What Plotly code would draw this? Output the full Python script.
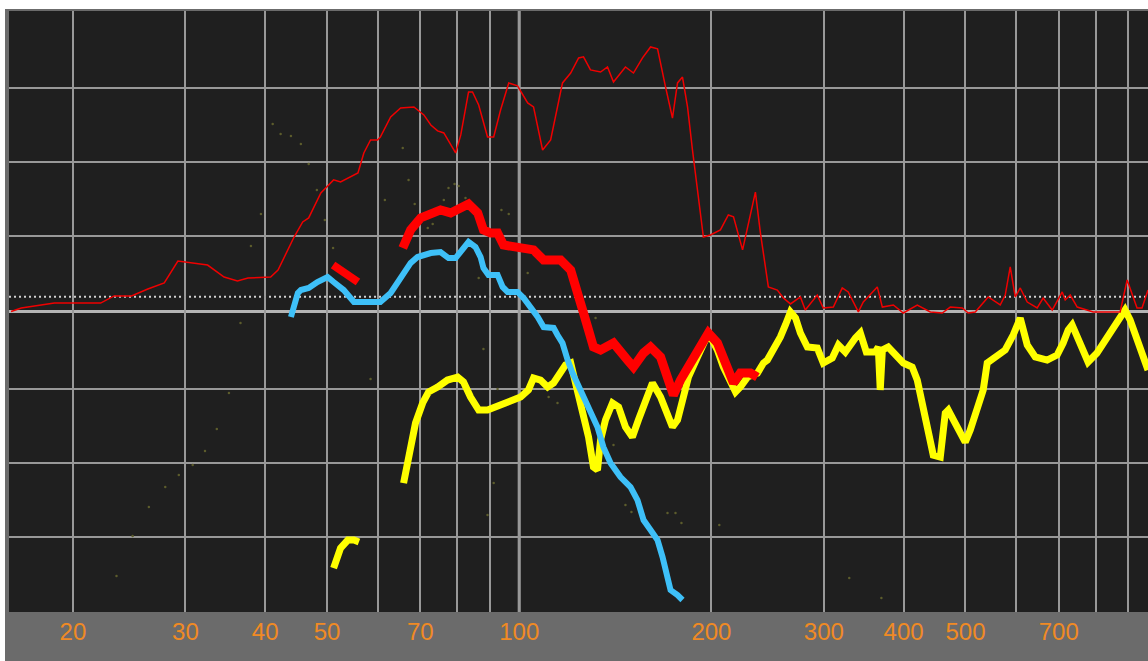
import math
import plotly.graph_objects as go

# ---- measured data (frequency in Hz, level in dB) ----
# broadband response, thin trace
resp_f = [16.0, 16.6, 18.7, 22.1, 23.2, 24.7, 26.2, 27.8, 29.2, 30.9, 32.5, 34.5, 36.2, 37.6,
          40.8, 41.9, 44.4, 45.8, 46.8, 48.9, 51.2, 52.5, 55.9, 57.1, 58.5, 60.0, 60.6, 62.9,
          65.2, 68.4, 70.9, 72.7, 74.5, 76.2, 79.5, 81.0, 83.3, 84.5, 86.4, 89.2, 91.2, 93.5,
          96.3, 99.4, 103.1, 105.3, 108.8, 112.0, 116.9, 120.4, 123.9, 126.1, 129.3, 134.1,
          137.5, 140.5, 146.7, 151.0, 156.0, 160.6, 164.7, 169.5, 173.8, 177.0, 180.2, 183.5,
          186.8, 194.3, 199.3, 206.6, 212.6, 216.6, 223.8, 234.4, 238.7, 245.6, 253.7, 259.3,
          266.0, 275.7, 280.6, 293.0, 299.4, 310.5, 320.6, 327.6, 339.8, 345.9, 363.8, 370.5,
          385.5, 399.6, 420.2, 440.5, 459.9, 473.4, 494.3, 505.0, 518.0, 542.7, 566.8, 577.1,
          587.6, 598.3, 609.2, 624.8, 647.6, 661.7, 683.7, 708.8, 716.5, 729.6, 748.2, 792.6,
          873.5, 895.8, 912.0, 928.4, 945.2, 965.8]
resp_db = [0.0, 0.24, 0.57, 0.57, 1.05, 1.05, 1.52, 1.93, 3.41, 3.28, 3.14, 2.33, 2.06, 2.26,
           2.33, 2.80, 5.03, 6.05, 6.32, 8.01, 8.89, 8.75, 9.36, 10.71, 11.59, 11.59, 11.79, 13.14,
           13.75, 13.82, 13.28, 12.60, 12.20, 12.06, 10.71, 11.93, 14.83, 14.83, 13.95, 11.79, 11.79, 13.61,
           15.44, 15.24, 14.09, 13.82, 10.91, 11.59, 15.44, 16.11, 17.13, 17.20, 16.32, 16.18,
           16.52, 15.51, 16.52, 16.11, 17.13, 17.87, 17.74, 15.17, 13.07, 15.44, 15.84, 13.82,
           10.91, 5.03, 5.17, 5.51, 6.52, 6.39, 4.16, 8.07, 5.30, 1.66, 1.45, 0.91,
           0.51, 0.98, 0.10, 1.11, 0.24, 0.30, 1.59, 1.32, -0.03, 0.64, 1.66, 0.30,
           0.44, -0.10, 0.44, -0.03, -0.10, 0.30, 0.24, -0.10, -0.03, 0.98, 0.44, 1.11,
           3.01, 0.98, 1.59, 0.64, 0.24, 0.91, 0.10, 1.32, 0.78, 1.11, 0.30, -0.03,
           -0.03, 2.13, 1.25, 0.24, 0.24, 1.45]

# red measurement, short low segment and main run
red_lo_f = [51.1, 52.5, 54.1, 55.9]
red_lo_db = [3.14, 2.80, 2.40, 1.99]
red_f = [65.7, 67.6, 70.1, 72.7, 75.3, 78.1, 81.0, 83.3, 86.1, 87.9, 90.2, 92.5, 94.5, 98.0,
         101.6, 105.3, 109.2, 112.0, 116.1, 120.4, 123.4, 126.1, 128.4, 130.7, 134.1, 140.5,
         147.8, 151.0, 156.6, 160.6, 166.5, 172.6, 174.4, 178.9, 185.4, 192.2, 197.8, 204.4,
         211.8, 216.6, 222.0, 230.3, 236.1]
red_db = [4.29, 5.51, 6.32, 6.66, 6.86, 6.66, 7.06, 7.26, 6.66, 5.51, 5.30, 5.30, 4.49, 4.43,
          4.36, 4.16, 3.48, 3.48, 3.48, 2.80, 1.45, -0.10, -1.25, -2.40, -2.60, -2.13,
          -3.28, -3.75, -2.80, -2.40, -3.07, -4.83, -5.64, -4.63, -3.48, -2.13, -1.45, -2.13,
          -3.95, -4.83, -4.16, -4.16, -4.43]

# blue measurement
blue_f = [43.9, 45.0, 45.5, 46.8, 48.3, 50.1, 51.2, 53.1, 55.1, 56.5, 60.6, 62.9, 65.2, 67.6,
          69.3, 72.7, 75.3, 77.5, 79.5, 81.5, 83.3, 85.4, 87.0, 87.9, 89.5, 92.5, 94.2, 95.9,
          99.4, 101.6, 104.2, 106.9, 109.2, 113.2, 114.8, 116.9, 119.1, 121.2, 124.7, 128.4,
          132.6, 135.5, 139.0, 144.1, 149.4, 153.2, 156.6, 160.6, 164.7, 167.7, 170.7, 172.6,
          177.0, 180.2]
blue_db = [-0.37, 1.25, 1.45, 1.59, 1.99, 2.33, 1.99, 1.45, 0.64, 0.64, 0.64, 1.25, 2.33, 3.28,
           3.68, 3.95, 4.02, 3.61, 3.61, 4.16, 4.70, 4.36, 3.68, 2.94, 2.47, 2.47, 1.66, 1.32,
           1.32, 0.91, 0.30, -0.37, -1.05, -1.11, -1.59, -2.13, -3.28, -4.16, -5.30, -6.45,
           -7.80, -9.16, -10.24, -11.18, -11.86, -12.74, -14.09, -14.76, -15.44, -16.59, -17.94, -18.82,
           -19.16, -19.49]

# yellow measurement, short low segment and main run
yel_lo_f = [51.2, 52.0, 52.5, 53.9, 55.1, 56.1]
yel_lo_db = [-17.33, -16.59, -15.98, -15.44, -15.44, -15.57]
yel_f = [65.9, 66.4, 67.6, 68.8, 70.6, 72.1, 74.5, 77.2, 80.1, 81.8, 83.9, 86.4, 89.2, 92.5,
         96.9, 100.5, 103.4, 105.3, 108.0, 110.8, 113.2, 116.1, 118.2, 120.4, 123.4, 125.7,
         128.4, 130.7, 132.6, 134.1, 136.5, 140.0, 143.1, 146.7, 150.4, 153.7, 158.9, 161.7,
         166.5, 170.7, 173.8, 177.0, 180.2, 184.1, 190.2, 195.7, 199.3, 204.4, 208.8, 214.2,
         218.2, 222.0, 227.8, 236.1, 241.3, 244.7, 250.2, 256.5, 261.2, 266.0, 270.9, 275.7,
         282.7, 293.0, 299.4, 309.3, 316.2, 324.2, 336.2, 342.2, 349.7, 361.2, 365.1, 367.7,
         370.5, 378.4, 399.6, 412.6, 420.2, 429.4, 437.2, 445.2, 456.6, 464.9, 469.9, 485.4,
         499.6, 508.7, 521.6, 533.1, 540.8, 560.6, 577.1, 593.9, 609.2, 624.8, 643.1, 671.3,
         696.0, 711.2, 724.2, 734.6, 756.2, 778.1, 803.6, 833.2, 857.6, 889.0, 905.4, 938.6,
         965.8]
yel_db = [-11.59, -10.91, -9.16, -7.53, -6.18, -5.44, -5.10, -4.63, -4.43, -4.76, -5.78, -6.66, -6.66, -6.39,
          -6.11, -5.78, -5.30, -4.49, -4.63, -5.10, -4.83, -4.16, -3.61, -3.48, -5.30, -6.45,
          -8.48, -10.51, -10.71, -8.68, -7.33, -6.18, -6.45, -7.80, -8.48, -7.33, -5.51, -4.83,
          -5.78, -6.86, -7.80, -7.33, -6.11, -4.43, -3.07, -1.93, -1.72, -2.60, -3.75, -4.83,
          -5.44, -5.10, -4.43, -4.16, -3.48, -3.28, -2.60, -1.72, -0.91, -0.03, -0.44, -1.45,
          -2.40, -2.47, -3.48, -3.14, -2.26, -2.74, -1.79, -1.45, -2.74, -2.74, -2.40, -5.30,
          -2.60, -2.40, -3.48, -3.75, -4.63, -6.45, -8.14, -9.70, -9.83, -6.86, -6.66, -7.80,
          -8.82, -8.01, -6.66, -5.30, -3.48, -2.94, -2.60, -1.59, -0.44, -2.26, -3.07, -3.28,
          -2.94, -2.13, -1.25, -0.91, -2.13, -3.41, -2.80, -1.72, -0.91, 0.10, -0.57, -2.60,
          -3.95]

# scattered raw samples
dots_f = [41.1, 42.3, 43.9, 45.5, 46.8, 48.2, 49.6, 51.1, 39.4, 38.0, 36.6, 61.6, 65.7, 67.1,
          68.6, 71.9, 73.2, 76.2, 77.5, 79.2, 80.4, 82.4, 93.8, 96.3, 86.4, 103.1, 131.7, 87.9,
          92.5, 111.2, 114.8, 91.2, 89.2, 140.5, 146.7, 149.9, 170.7, 175.7, 179.5, 205.8,
          328.8, 369.2, 58.5, 35.1, 33.6, 32.2, 30.8, 29.3, 27.9, 26.3, 24.8, 23.4]
dots_db = [12.67, 11.99, 11.86, 11.32, 9.97, 8.21, 6.18, 4.29, 6.59, 4.43, -0.78, 7.53, 11.05, 8.89,
           7.26, 5.64, 5.91, 7.53, 8.34, 8.61, 8.48, 7.67, 6.86, 6.59, 2.26, 2.60, -0.44, -2.53,
           -5.24, -5.78, -6.18, -11.59, -13.75, -9.02, -13.07, -13.55, -13.61, -13.61, -14.29, -14.43,
           -18.01, -19.36, -4.56, -5.51, -7.94, -9.43, -10.37, -11.05, -11.86, -13.21, -15.17, -17.87]

# axis grid
freq_ticks = [20, 30, 40, 50, 60, 70, 80, 90, 100, 200, 300, 400, 500, 600, 700, 800, 900]
freq_labels = ["20", "30", "40", "50", "", "70", "", "", "100", "200", "300", "400", "500",
               "", "700", "", ""]
level_grid = [15.1, 10.1, 5.1, -5.25, -10.25, -15.25]
ref_level = 1.0
freq_range = [15.88, 965.8]
level_range = [-20.3, 20.3]

W, H = 1148, 661
ML, MT, MB = 9, 11, 49
PW, PH = W - ML, H - MT - MB

fig = go.Figure()

fig.add_trace(go.Scatter(x=dots_f, y=dots_db, mode="markers",
                         marker=dict(size=2.5, color="#5c5c2c"), hoverinfo="skip"))
fig.add_trace(go.Scatter(x=yel_lo_f, y=yel_lo_db, mode="lines",
                         line=dict(color="#ffff00", width=7)))
fig.add_trace(go.Scatter(x=yel_f, y=yel_db, mode="lines",
                         line=dict(color="#ffff00", width=7)))
fig.add_trace(go.Scatter(x=blue_f, y=blue_db, mode="lines",
                         line=dict(color="#3ec0f8", width=6)))
fig.add_trace(go.Scatter(x=red_lo_f, y=red_lo_db, mode="lines",
                         line=dict(color="#ff0000", width=8)))
fig.add_trace(go.Scatter(x=red_f, y=red_db, mode="lines",
                         line=dict(color="#ff0000", width=9)))
fig.add_trace(go.Scatter(x=resp_f, y=resp_db, mode="lines",
                         line=dict(color="#f00000", width=1.5)))

# white page strips around the frame
px = lambda p: (p - ML) / PW
py = lambda p: 1 - (p - MT) / PH
fig.add_shape(type="rect", xref="paper", yref="paper", x0=px(0), x1=px(5), y0=py(H), y1=py(0),
              fillcolor="white", line_width=0, layer="above")
fig.add_shape(type="rect", xref="paper", yref="paper", x0=px(0), x1=px(W), y0=py(9), y1=py(0),
              fillcolor="white", line_width=0, layer="above")

# reference lines
fig.add_hline(y=0, line=dict(color="#b4b4b4", width=3), layer="below")
fig.add_hline(y=ref_level, line=dict(color="#d0d0d0", width=2, dash="2px,3px"), layer="below")
fig.add_vline(x=100, line=dict(color="#a8a8a8", width=3), layer="below")

fig.update_xaxes(type="log", range=[math.log10(v) for v in freq_range],
                 tickvals=freq_ticks, ticktext=freq_labels, showgrid=True,
                 gridcolor="#989898", gridwidth=2, zeroline=False, showline=False,
                 ticks="", tickfont=dict(family="Liberation Sans Narrow, Arimo, Liberation Sans, Arial",
                                         size=24, color="#f08a24"),
                 ticklabelstandoff=3, fixedrange=True)
fig.update_yaxes(range=level_range, tickvals=level_grid, showticklabels=False,
                 showgrid=True, gridcolor="#989898", gridwidth=2, zeroline=False,
                 showline=False, ticks="", fixedrange=True)

fig.update_layout(width=W, height=H, margin=dict(l=ML, r=0, t=MT, b=MB, pad=0),
                  paper_bgcolor="#6b6b6b", plot_bgcolor="#1f1f1f", showlegend=False)

fig.write_html("out.html", config={"displayModeBar": False})
